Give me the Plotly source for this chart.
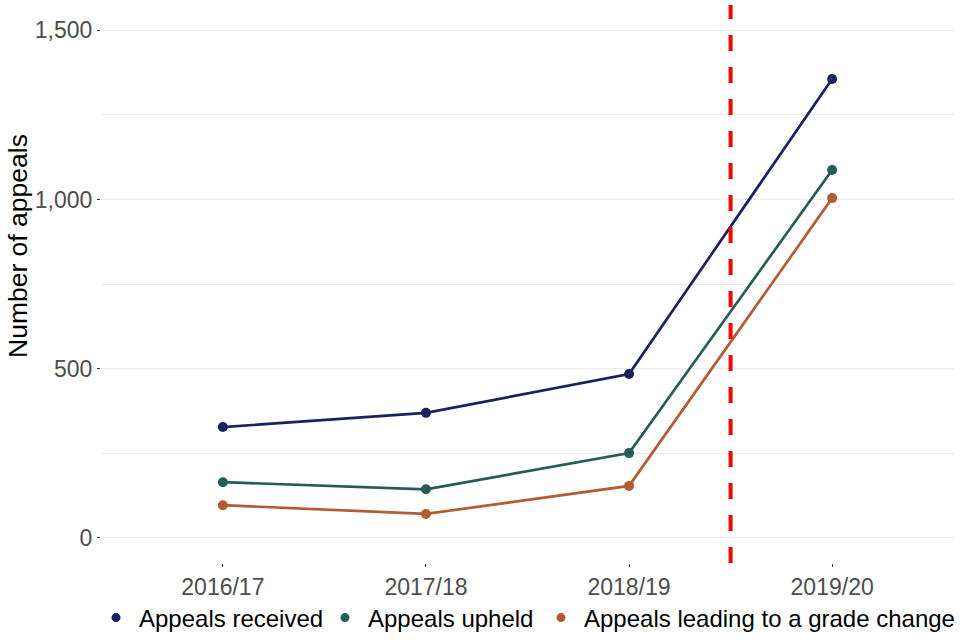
import plotly.graph_objects as go

years = ["2016/17", "2017/18", "2018/19", "2019/20"]
appeals_received = [327, 369, 484, 1356]
appeals_upheld = [164, 143, 250, 1087]
appeals_grade_change = [96, 70, 153, 1004]

series_names = ["Appeals received", "Appeals upheld", "Appeals leading to a grade change"]
series_values = [appeals_received, appeals_upheld, appeals_grade_change]
series_colors = ["#1b2060", "#245c56", "#b35b31"]

y_ticks = [0, 500, 1000, 1500]
y_tick_labels = ["0", "500", "1,000", "1,500"]

font_family = "Liberation Sans, Arial, sans-serif"

fig = go.Figure()
for name, vals, col in zip(series_names, series_values, series_colors):
    fig.add_trace(go.Scatter(
        x=years, y=vals, mode="lines+markers", name=name,
        line=dict(color=col, width=2.7),
        marker=dict(color=col, size=10),
        showlegend=False,
    ))
legend_ids = ["legend", "legend2", "legend3"]
for name, col, lid in zip(series_names, series_colors, legend_ids):
    fig.add_trace(go.Scatter(
        x=[None], y=[None], mode="markers", name=name,
        marker=dict(color=col, size=9),
        showlegend=True, legend=lid,
    ))

fig.add_shape(type="line", xref="x", yref="paper", x0=2.5, x1=2.5, y0=0, y1=1,
              line=dict(color="#ff0000", width=4, dash="16px,16px"), layer="above")

fig.add_annotation(text="Number of appeals", textangle=-90, showarrow=False,
                   xref="paper", yref="paper",
                   x=(18.5 - 101) / 853, y=(563 - 246.5) / 558,
                   xanchor="center", yanchor="middle",
                   font=dict(size=26.5, color="#000000"))

legend_x_px = [93, 322, 538]
legend_common = dict(orientation="h", xref="container", yref="container",
                     y=1 - 618 / 640, yanchor="middle", xanchor="left",
                     font=dict(size=24, color="#000000"),
                     bgcolor="rgba(0,0,0,0)", itemwidth=36)

fig.update_layout(
    width=960, height=640, autosize=False,
    margin=dict(l=101, r=6, t=5, b=77, autoexpand=False),
    plot_bgcolor="white", paper_bgcolor="white",
    font=dict(family=font_family, size=22, color="#000000"),
    showlegend=True,
    legend=dict(x=legend_x_px[0] / 960, **legend_common),
    legend2=dict(x=legend_x_px[1] / 960, **legend_common),
    legend3=dict(x=legend_x_px[2] / 960, **legend_common),
    xaxis=dict(
        type="category", range=[-0.6, 3.6], automargin=False,
        showgrid=False, zeroline=False, showline=False,
        ticks="outside", ticklen=3, tickwidth=1, tickcolor="#333333",
        tickfont=dict(size=23, color="#4d4d4d"),
    ),
    yaxis=dict(
        range=[-75, 1575], tickvals=y_ticks, ticktext=y_tick_labels, automargin=False,
        showgrid=True, gridcolor="#ebebeb", gridwidth=1,
        zeroline=False, showline=False,
        ticks="outside", ticklen=3, tickwidth=1, tickcolor="#333333",
        tickfont=dict(size=23, color="#4d4d4d"),
        minor=dict(tickvals=[250, 750, 1250], showgrid=True, gridcolor="#ebebeb", gridwidth=1, ticks=""),
    ),
)

fig.write_html("out.html", config={"displayModeBar": False},
               post_script="document.body.style.margin='0';")
